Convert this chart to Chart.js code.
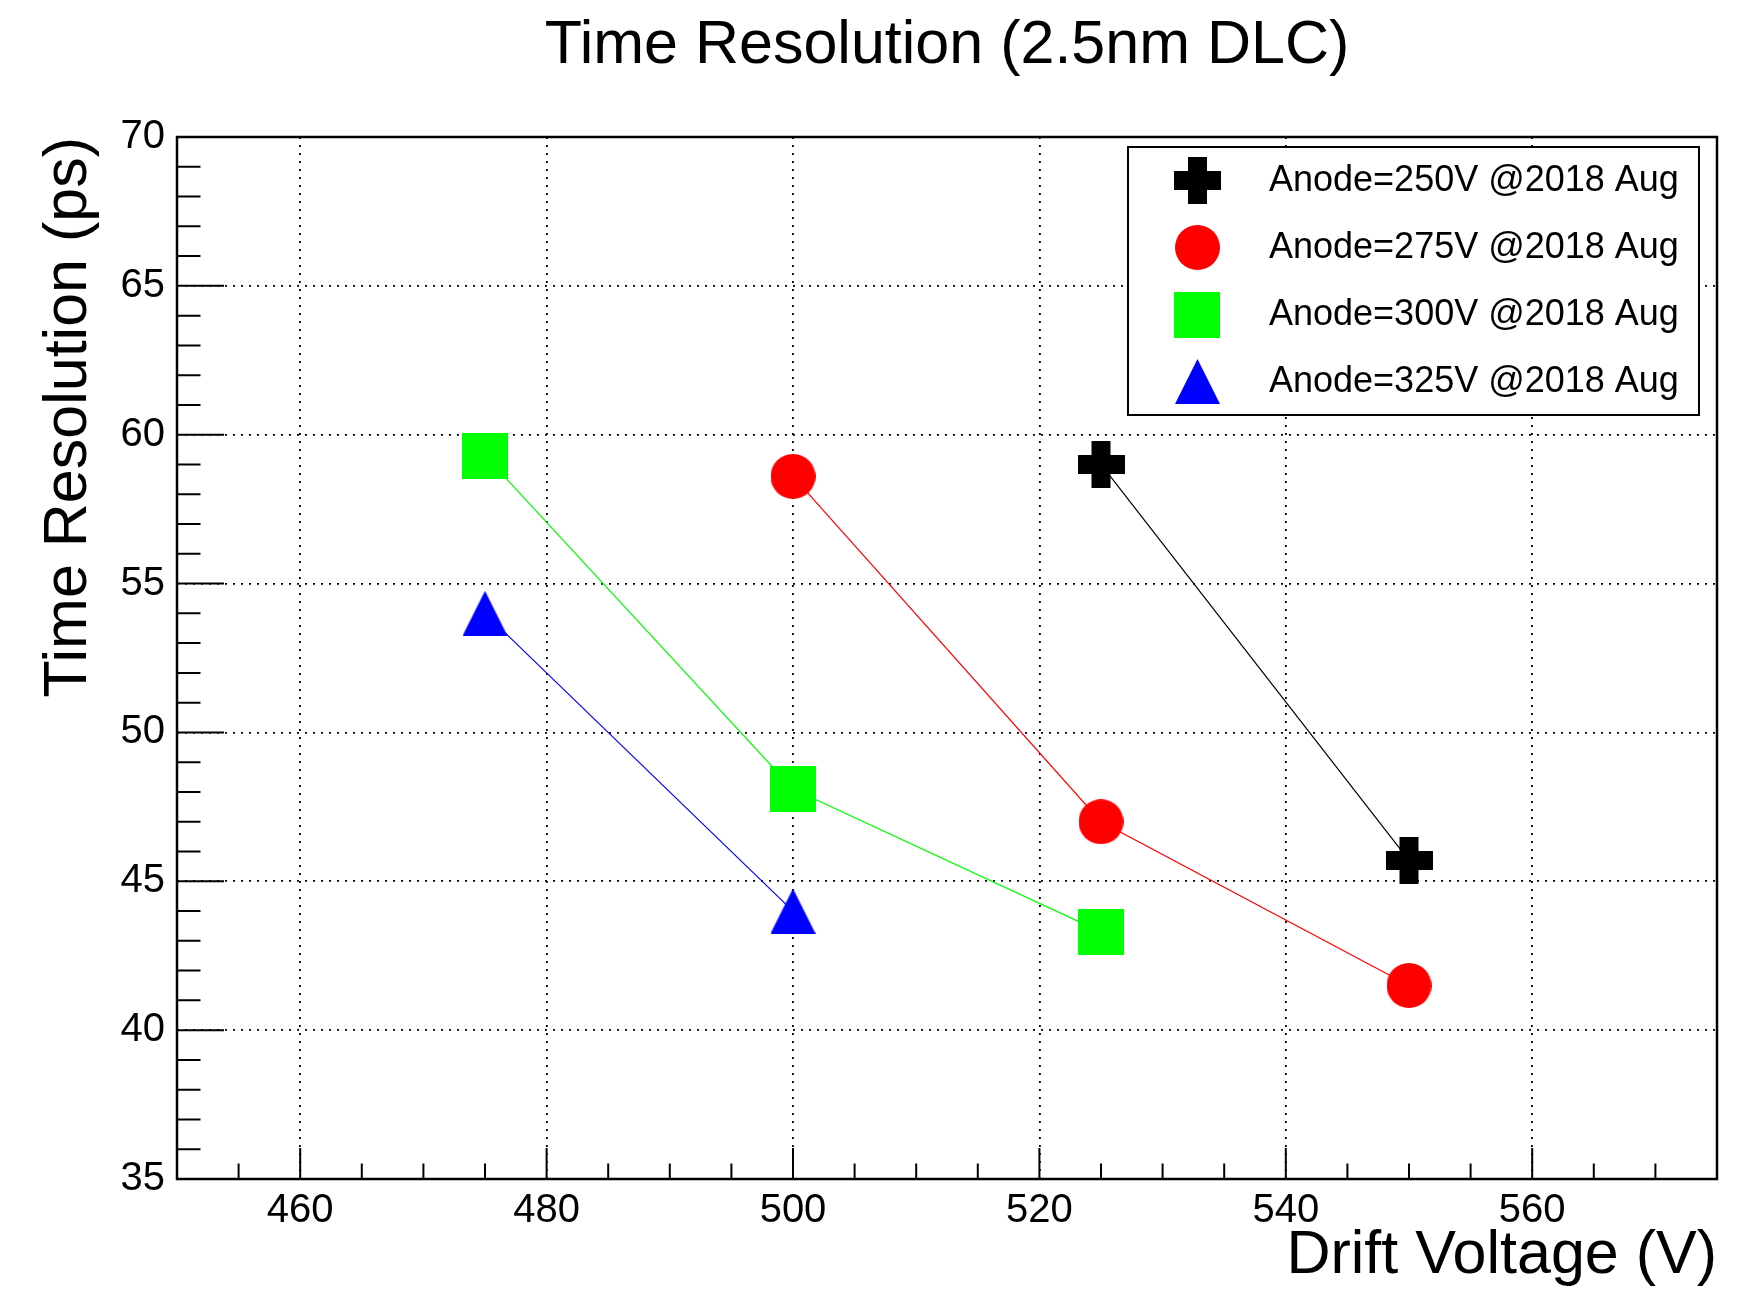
<!DOCTYPE html>
<html>
<head>
<meta charset="utf-8">
<title>Time Resolution (2.5nm DLC)</title>
<script src="https://cdn.jsdelivr.net/npm/chart.js@4.4.1/dist/chart.umd.min.js"></script>
<style>
  html, body { margin: 0; padding: 0; background: #fff; }
  #wrap { width: 1748px; height: 1292px; }
</style>
</head>
<body>
<div id="wrap"><canvas id="myChart" width="1748" height="1292"></canvas></div>
<script>
// datos
const seriesLabels = ['Anode=250V @2018 Aug', 'Anode=275V @2018 Aug', 'Anode=300V @2018 Aug', 'Anode=325V @2018 Aug'];
const drift250 = [525, 550];
const reso250 = [59.0, 45.7];
const drift275 = [500, 525, 550];
const reso275 = [58.6, 47.0, 41.5];
const drift300 = [475, 500, 525];
const reso300 = [59.3, 48.1, 43.3];
const drift325 = [475, 500];
const reso325 = [54.0, 44.0];
const xTicks = [460, 480, 500, 520, 540, 560];
const yTicks = [35, 40, 45, 50, 55, 60, 65, 70];

const FONT = "'Liberation Sans', Arial, Helvetica, sans-serif";

// marcadores estilo ROOT
function makeMarker(kind, color) {
	let c = document.createElement('canvas');
	let size = { plus: 47, circle: 45, square: 46, triangle: 45 }[kind];
	c.width = size;
	c.height = size;
	let g = c.getContext('2d');
	g.fillStyle = color;
	if (kind == 'plus') {
		g.fillRect(14, 0, 19, 47);
		g.fillRect(0, 14, 47, 19);
	} else if (kind == 'circle') {
		g.beginPath();
		g.arc(22.5, 22.5, 22.5, 0, Math.PI * 2);
		g.fill();
	} else if (kind == 'square') {
		g.fillRect(0, 0, 46, 46);
	} else {
		g.beginPath();
		g.moveTo(22.5, 0);
		g.lineTo(45, 45);
		g.lineTo(0, 45);
		g.closePath();
		g.fill();
	}
	return c;
}

function toPoints(xs, ys) {
	return xs.map((x, i) => ({ x: x, y: ys[i] }));
}

function serie(label, xs, ys, color, kind) {
	return {
		label: label,
		data: toPoints(xs, ys),
		showLine: true,
		borderColor: color,
		borderWidth: 1.2,
		backgroundColor: color,
		pointStyle: makeMarker(kind, color),
		pointRadius: 20,
		pointHoverRadius: 20
	};
}

// marco, ticks menores/mayores y leyenda tipo ROOT
const rootFrame = {
	id: 'rootFrame',
	afterDraw(chart) {
		const ctx = chart.ctx;
		const a = chart.chartArea;
		const xs = chart.scales.x;
		const ys = chart.scales.y;
		ctx.save();
		ctx.strokeStyle = '#000';
		ctx.lineWidth = 2;
		ctx.beginPath();
		for (let v = 455; v <= 574; v += 5) {
			let px = xs.getPixelForValue(v);
			let len = (v % 20 == 0) ? 31 : 15.5;
			ctx.moveTo(px, a.bottom);
			ctx.lineTo(px, a.bottom - len);
		}
		for (let v = 35; v <= 70; v += 1) {
			let py = ys.getPixelForValue(v);
			let len = (v % 5 == 0) ? 47 : 23.5;
			ctx.moveTo(a.left, py);
			ctx.lineTo(a.left + len, py);
		}
		ctx.stroke();
		ctx.lineWidth = 2.5;
		ctx.strokeRect(a.left, a.top, a.right - a.left, a.bottom - a.top);

		// leyenda
		const bx = a.right - 589, by = a.top + 10, bw = 571, bh = 268;
		ctx.fillStyle = '#fff';
		ctx.fillRect(bx, by, bw, bh);
		ctx.lineWidth = 2;
		ctx.strokeRect(bx, by, bw, bh);
		ctx.font = '36px ' + FONT;
		ctx.fillStyle = '#000';
		ctx.textBaseline = 'middle';
		ctx.textAlign = 'left';
		chart.data.datasets.forEach((ds, i) => {
			let cy = by + bh / 4 * (i + 0.5);
			let m = ds.pointStyle;
			ctx.drawImage(m, Math.round(bx + 69 - m.width / 2), Math.round(cy - m.height / 2));
			ctx.fillText(ds.label, bx + 141, cy + 1);
		});
		ctx.restore();
	}
};

const ctx = document.getElementById('myChart').getContext('2d');
const myChart = new Chart(ctx, {
	type: 'scatter',
	data: {
		datasets: [
			serie(seriesLabels[0], drift250, reso250, '#000000', 'plus'),
			serie(seriesLabels[1], drift275, reso275, '#ff0000', 'circle'),
			serie(seriesLabels[2], drift300, reso300, '#00ff00', 'square'),
			serie(seriesLabels[3], drift325, reso325, '#0000ff', 'triangle')
		]
	},
	options: {
		responsive: false,
		animation: false,
		layout: { padding: { left: 0, right: 31, top: 0, bottom: 0 } },
		plugins: {
			legend: { display: false },
			tooltip: { enabled: false },
			title: {
				display: true,
				text: 'Time Resolution (2.5nm DLC)',
				fullSize: false,
				color: '#000',
				font: { family: FONT, size: 61, weight: 'normal', lineHeight: 1 },
				padding: { top: 16, bottom: 60 }
			}
		},
		scales: {
			x: {
				type: 'linear',
				min: 450,
				max: 575,
				afterBuildTicks: s => { s.ticks = xTicks.map(v => ({ value: v })); },
				afterFit: s => { s.height = 113; },
				grid: { color: '#000', lineWidth: 1.8, drawTicks: false },
				border: { display: false, dash: [2, 6] },
				ticks: { color: '#000', padding: 8, font: { family: FONT, size: 40, lineHeight: 1.2 } },
				title: {
					display: true,
					text: 'Drift Voltage (V)',
					align: 'end',
					color: '#000',
					font: { family: FONT, size: 61, lineHeight: 1 },
					padding: { top: 0, bottom: 5 }
				}
			},
			y: {
				type: 'linear',
				min: 35,
				max: 70,
				afterBuildTicks: s => { s.ticks = yTicks.map(v => ({ value: v })); },
				afterFit: s => { s.width = 177; },
				grid: { color: '#000', lineWidth: 1.8, drawTicks: false },
				border: { display: false, dash: [2, 6] },
				ticks: { color: '#000', padding: 12, font: { family: FONT, size: 40 } },
				title: {
					display: true,
					text: 'Time Resolution (ps)',
					align: 'end',
					color: '#000',
					font: { family: FONT, size: 61, lineHeight: 1 },
					padding: { top: 39, bottom: 0 }
				}
			}
		}
	},
	plugins: [rootFrame]
});
</script>
</body>
</html>
